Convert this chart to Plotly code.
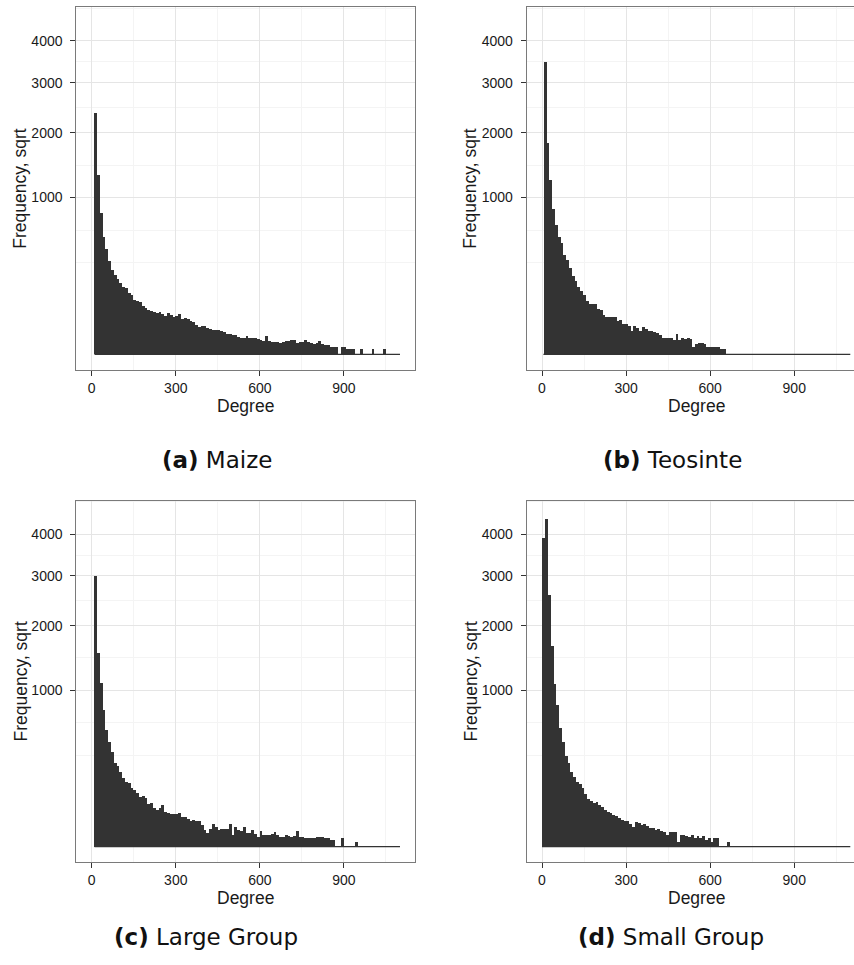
import numpy as np
import plotly.graph_objects as go

# ---------------- data (histogram counts, bin width 10) ----------------
bin_width = 10
x_max = 1100

maize_start = 10
maize_counts = [2361, 1298, 808, 560, 445, 350, 289, 256, 229, 205,
                182, 175, 151, 141, 117, 113, 108, 95, 86, 80,
                74, 71, 68, 71, 66, 60, 68, 62, 56, 58,
                66, 50, 53, 50, 45, 41, 35, 30, 31, 33,
                27, 25, 24, 23, 24, 22, 19, 17, 17, 15,
                14, 12, 11, 11, 13, 11, 10, 10, 9, 8,
                7, 13, 7, 6, 6, 6, 5, 6, 7, 7,
                8, 8, 5, 6, 6, 8, 6, 5, 4, 5,
                7, 4, 3, 3, 2, 2, 2, 0, 2, 2,
                1, 1, 1, 0, 0, 1, 0, 0, 0, 1,
                0, 0, 0, 1]

teosinte_start = 5
teosinte_counts = [3466, 1810, 1226, 860, 680, 560, 501, 400, 357, 300,
                   250, 215, 180, 160, 140, 116, 103, 103, 103, 84,
                   80, 63, 56, 56, 56, 56, 43, 48, 37, 37,
                   31, 21, 31, 27, 21, 30, 25, 21, 21, 20,
                   18, 15, 10, 11, 11, 10, 8, 16, 8, 10,
                   9, 11, 9, 2, 4, 5, 5, 4, 2, 2,
                   2, 2, 2, 1, 1]

large_start = 10
large_counts = [3007, 1535, 1102, 767, 562, 451, 369, 287, 271, 232,
                195, 172, 165, 140, 132, 120, 103, 105, 100, 75,
                78, 61, 56, 61, 72, 51, 48, 44, 44, 44,
                48, 37, 36, 32, 28, 30, 28, 27, 20, 12,
                8, 13, 21, 17, 12, 13, 13, 13, 21, 6,
                17, 12, 10, 16, 8, 8, 12, 7, 4, 11,
                6, 6, 6, 7, 9, 6, 4, 4, 6, 5,
                4, 5, 10, 4, 4, 3, 3, 3, 3, 4,
                4, 4, 3, 3, 2, 2, 0, 0, 3, 0,
                0, 0, 0, 1]

small_start = 0
small_counts = [3915, 4391, 2602, 1650, 1090, 820, 580, 450, 340, 290,
                230, 200, 173, 160, 140, 114, 94, 87, 80, 82,
                72, 64, 55, 51, 46, 42, 40, 34, 30, 27,
                28, 21, 17, 25, 24, 20, 21, 18, 15, 14,
                12, 13, 11, 9, 6, 9, 9, 9, 1, 6,
                6, 5, 4, 6, 3, 5, 3, 5, 2, 3,
                1, 3, 3, 0, 0, 0, 1]

panel_letters = ["(a)", "(b)", "(c)", "(d)"]
panel_names = ["Maize", "Teosinte", "Large Group", "Small Group"]
panel_starts = [maize_start, teosinte_start, large_start, small_start]
panel_counts = [maize_counts, teosinte_counts, large_counts, small_counts]

x_tick_vals = [0, 300, 600, 900]
x_minor_vals = [150, 450, 750, 1050]
y_tick_vals = [1000, 2000, 3000, 4000]
x_title = "Degree"
y_title = "Frequency, sqrt"

# ---------------- layout geometry ----------------
W, H = 854, 965
bar_color = "#333333"
border_color = "#7a7a7a"
major_grid = "#e5e5e5"
minor_grid = "#f4f4f4"
tick_font = dict(family="Liberation Sans, Arial, sans-serif", size=14, color="#1a1a1a")
title_font = dict(family="Liberation Sans, Arial, sans-serif", size=17.5, color="#1a1a1a")
cap_font = dict(family="DejaVu Sans, sans-serif", size=23, color="#111111")

# pixel boxes of the plot panels (left, right, top, bottom)
boxes = [
    (76.3, 415.4, 7.3, 370.0),
    (526.6, 854.0, 7.3, 370.0),
    (76.3, 415.4, 500.7, 862.3),
    (526.6, 854.0, 500.7, 862.3),
]
x_lo, x_hi_full = -55.0, 1155.0
px_per_unit = (415.4 - 76.3) / (x_hi_full - x_lo)
y_range = [-3.17, 70.0]

# sqrt-scale minor breaks (ggplot style)
sq = np.sqrt(y_tick_vals)
step = sq[1] - sq[0]
ext = np.concatenate([[sq[0] - step], sq, [sq[-1] + step]])
mids = (ext[:-1] + ext[1:]) / 2
y_minor = sorted([v for v in list(mids) + [ext[0]] if y_range[0] < v < y_range[1]])

fig = go.Figure()
layout = dict(width=W, height=H, margin=dict(l=0, r=0, t=0, b=0),
              paper_bgcolor="white", plot_bgcolor="white", showlegend=False,
              bargap=0, annotations=[])

caption_pos = [(217, 460), (672, 460), (206, 937), (671, 937)]
ytitle_x = [20, 470, 20, 470]

for k in range(4):
    sfx = "" if k == 0 else str(k + 1)
    xa, ya = "x" + sfx, "y" + sfx
    counts = np.array(panel_counts[k], dtype=float)
    start = panel_starts[k]
    centers = start + bin_width * (np.arange(len(counts)) + 0.5)
    fig.add_trace(go.Bar(x=centers, y=np.sqrt(counts), width=bin_width,
                         marker=dict(color=bar_color, line=dict(width=0)),
                         xaxis=xa, yaxis=ya, hoverinfo="skip"))
    fig.add_trace(go.Scatter(x=[start, x_max], y=[0, 0], mode="lines",
                             line=dict(color=bar_color, width=1.2),
                             xaxis=xa, yaxis=ya, hoverinfo="skip"))
    l, r, t, b = boxes[k]
    right_cut = r > 853
    x_hi = x_lo + (r - l) / px_per_unit
    layout["xaxis" + sfx] = dict(
        domain=[l / W, r / W], range=[x_lo, x_hi], anchor=ya,
        tickmode="array", tickvals=x_tick_vals, ticktext=[str(v) for v in x_tick_vals],
        ticks="outside", ticklen=5, tickwidth=1, tickcolor="#333333",
        tickfont=tick_font, showline=True, linecolor=border_color, linewidth=1,
        mirror=True, showgrid=True, gridcolor=major_grid, gridwidth=1, zeroline=False,
        minor=dict(tickmode="array", tickvals=x_minor_vals, showgrid=True,
                   gridcolor=minor_grid, gridwidth=1, ticks=""),
        fixedrange=True)
    layout["yaxis" + sfx] = dict(
        domain=[1 - b / H, 1 - t / H], range=y_range, anchor=xa,
        tickmode="array", tickvals=list(sq), ticktext=[str(v) for v in y_tick_vals],
        ticks="outside", ticklen=5, tickwidth=1, tickcolor="#333333",
        ticklabelstandoff=5,
        tickfont=tick_font, showline=True, linecolor=border_color, linewidth=1,
        mirror=not right_cut, showgrid=True, gridcolor=major_grid,
        gridwidth=1, zeroline=False,
        minor=dict(tickmode="array", tickvals=y_minor, showgrid=True,
                   gridcolor=minor_grid, gridwidth=1, ticks=""),
        fixedrange=True)
    # axis titles
    full_r = l + (x_hi_full - x_lo) * px_per_unit
    layout["annotations"].append(dict(
        text=x_title, xref="paper", yref="paper", x=((l + full_r) / 2) / W,
        y=1 - (b + 36) / H, xanchor="center", yanchor="middle", showarrow=False,
        font=title_font))
    layout["annotations"].append(dict(
        text=y_title, xref="paper", yref="paper", x=ytitle_x[k] / W,
        y=1 - ((t + b) / 2) / H, xanchor="center", yanchor="middle", showarrow=False,
        textangle=-90, font=title_font))
    cx, cy = caption_pos[k]
    layout["annotations"].append(dict(
        text="<b>" + panel_letters[k] + "</b> " + panel_names[k], xref="paper",
        yref="paper", x=cx / W, y=1 - cy / H, xanchor="center", yanchor="middle",
        showarrow=False, font=cap_font))

fig.update_layout(**layout)
fig.write_html("out.html")
